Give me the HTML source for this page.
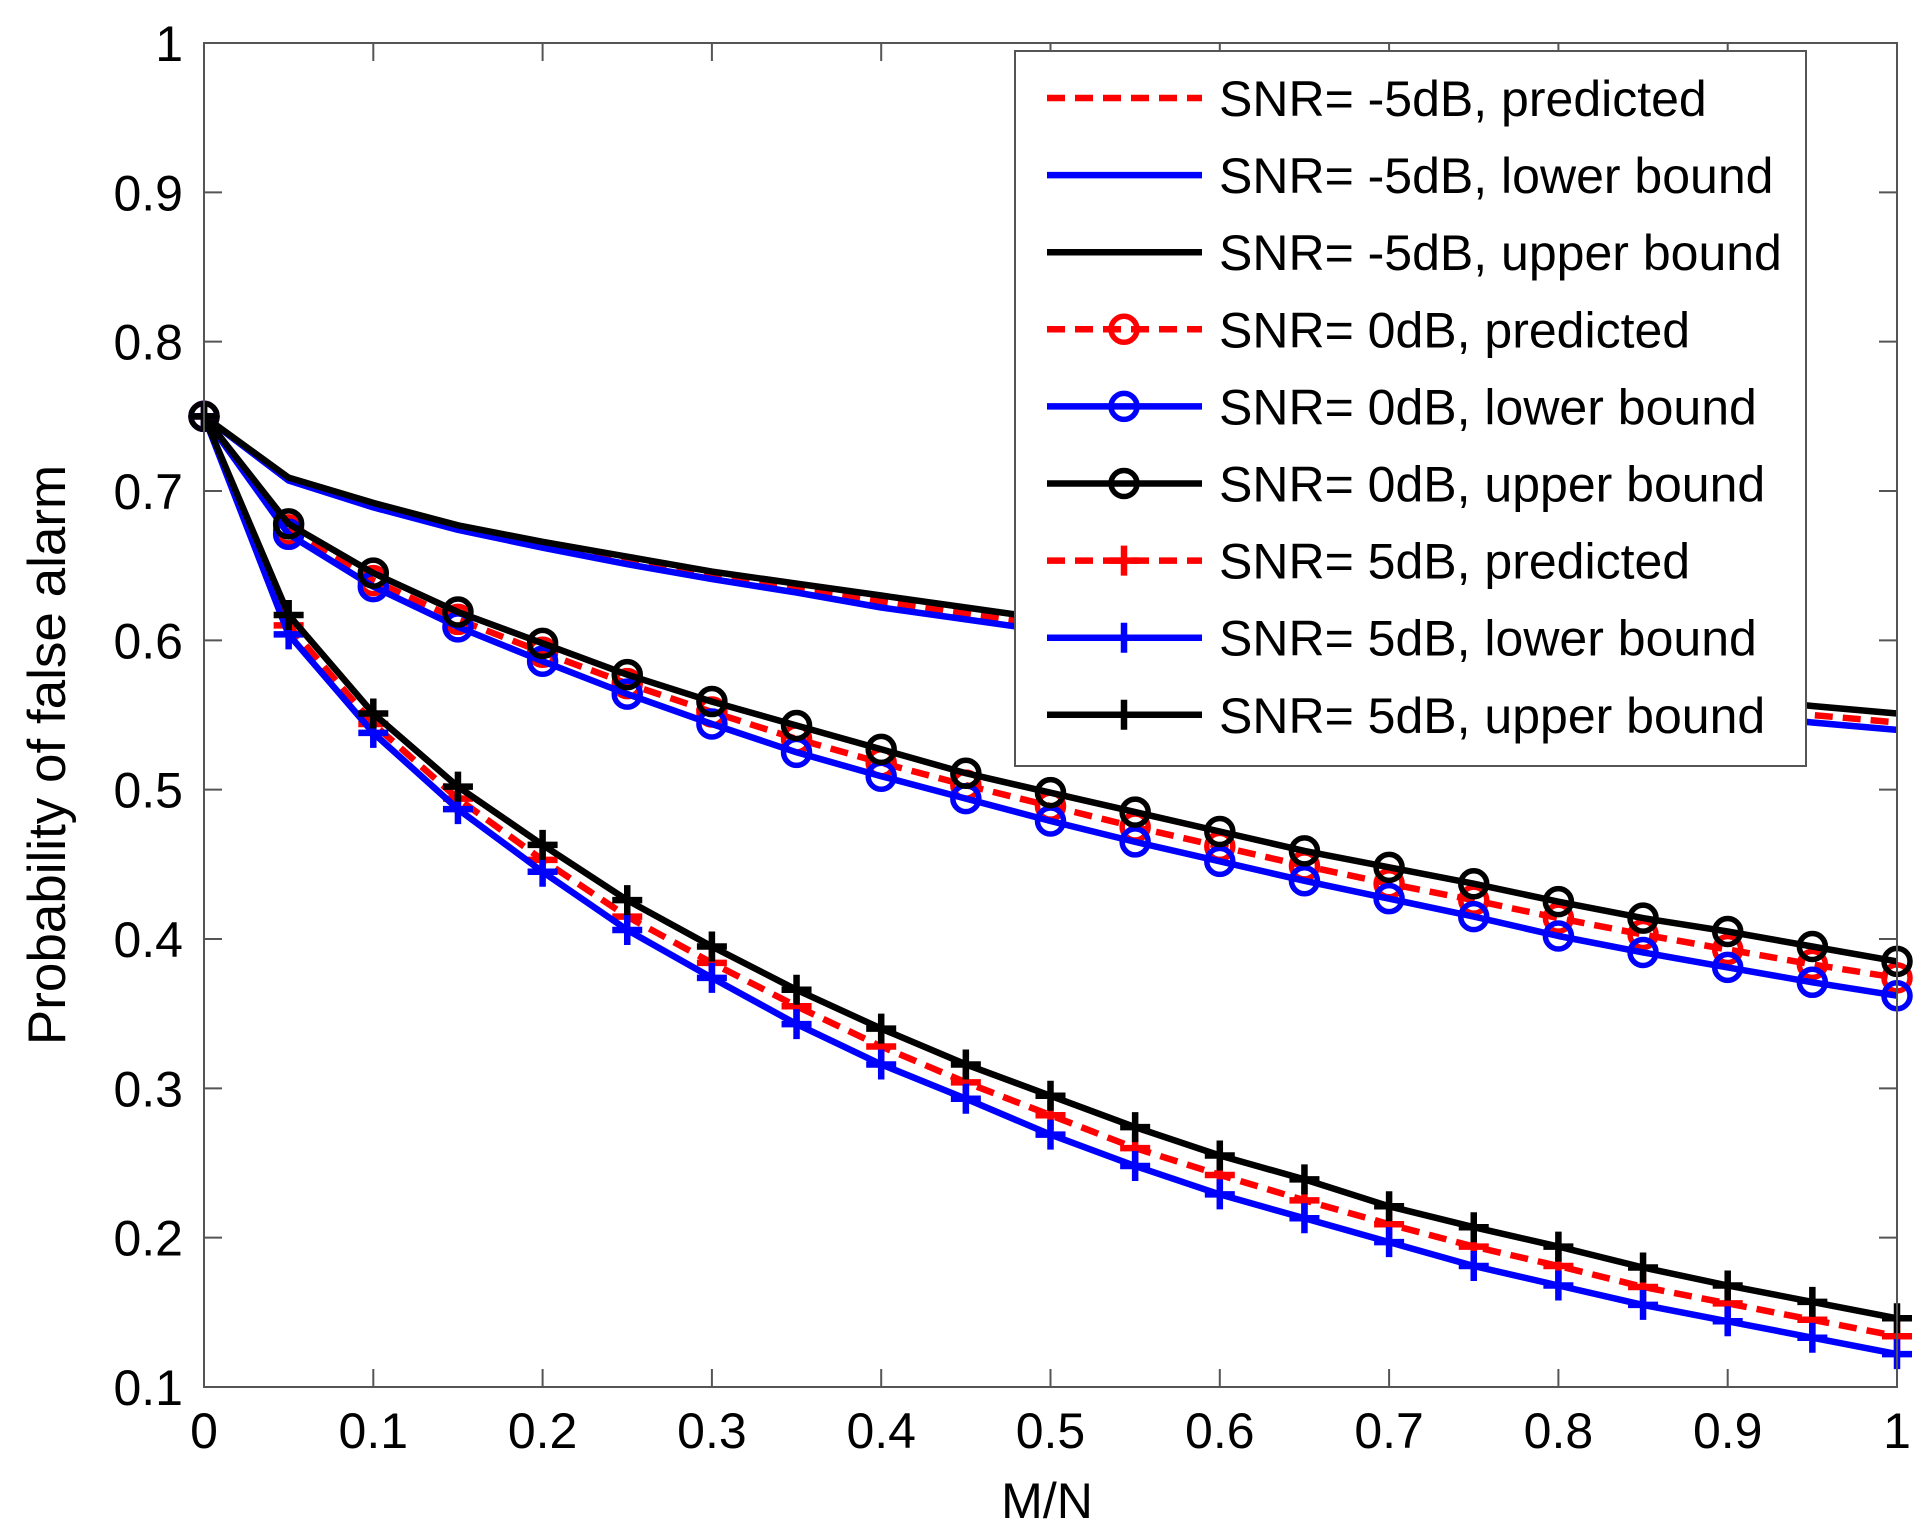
<!DOCTYPE html>
<html><head><meta charset="utf-8"><style>
html,body{margin:0;padding:0;background:#fff;}
svg{display:block;font-family:"Liberation Sans",Arial,sans-serif;}
</style></head><body>
<svg id="chart" width="1931" height="1539" viewBox="0 0 1931 1539">
<rect x="0" y="0" width="1931" height="1539" fill="#fff"/>
<g id="grid"></g>
<g id="series"></g>
<g id="axes"></g>
<g id="legend"></g>
</svg>
<script>
const xVals=[0,0.05,0.1,0.15,0.2,0.25,0.3,0.35,0.4,0.45,0.5,0.55,0.6,0.65,0.7,0.75,0.8,0.85,0.9,0.95,1];
const xTicks=[0,0.1,0.2,0.3,0.4,0.5,0.6,0.7,0.8,0.9,1];
const xTickLabels=["0","0.1","0.2","0.3","0.4","0.5","0.6","0.7","0.8","0.9","1"];
const yTicks=[0.1,0.2,0.3,0.4,0.5,0.6,0.7,0.8,0.9,1];
const yTickLabels=["0.1","0.2","0.3","0.4","0.5","0.6","0.7","0.8","0.9","1"];
const m5Upper=[0.75,0.709,0.692,0.677,0.666,0.656,0.646,0.638,0.630,0.622,0.614,0.607,0.600,0.593,0.587,0.580,0.574,0.568,0.562,0.556,0.551];
const m5Lower=[0.75,0.707,0.689,0.674,0.662,0.651,0.641,0.632,0.622,0.614,0.606,0.598,0.591,0.584,0.577,0.570,0.564,0.557,0.551,0.545,0.540];
const m5Pred=[0.75,0.708,0.690,0.675,0.664,0.653,0.643,0.635,0.626,0.618,0.610,0.602,0.595,0.588,0.582,0.575,0.569,0.562,0.556,0.550,0.545];
const d0Upper=[0.75,0.678,0.645,0.619,0.598,0.577,0.559,0.543,0.527,0.511,0.498,0.485,0.472,0.459,0.448,0.437,0.425,0.414,0.405,0.395,0.385];
const d0Lower=[0.75,0.671,0.636,0.609,0.586,0.564,0.544,0.525,0.509,0.494,0.479,0.465,0.452,0.439,0.427,0.415,0.402,0.391,0.381,0.371,0.362];
const d0Pred=[0.75,0.674,0.640,0.614,0.592,0.571,0.552,0.534,0.518,0.503,0.489,0.475,0.462,0.449,0.437,0.426,0.414,0.403,0.393,0.383,0.374];
const p5Upper=[0.75,0.617,0.551,0.502,0.463,0.426,0.395,0.366,0.340,0.316,0.295,0.274,0.255,0.239,0.221,0.207,0.194,0.180,0.168,0.157,0.146];
const p5Lower=[0.75,0.604,0.538,0.487,0.445,0.406,0.374,0.343,0.316,0.293,0.269,0.248,0.229,0.213,0.197,0.181,0.168,0.155,0.144,0.133,0.122];
const p5Pred=[0.75,0.610,0.544,0.494,0.453,0.415,0.384,0.355,0.328,0.304,0.282,0.260,0.242,0.225,0.209,0.194,0.181,0.167,0.156,0.145,0.134];
const legendLabels=["SNR= -5dB, predicted","SNR= -5dB, lower bound","SNR= -5dB, upper bound","SNR= 0dB, predicted","SNR= 0dB, lower bound","SNR= 0dB, upper bound","SNR= 5dB, predicted","SNR= 5dB, lower bound","SNR= 5dB, upper bound"];

const NS="http://www.w3.org/2000/svg";
const L=204,R=1897,T=43,B=1387;
function sx(v){return L+(v-0)/(1-0)*(R-L);}
function sy(v){return B-(v-0.1)/(1-0.1)*(B-T);}
function mk(tag,attrs,parent){const e=document.createElementNS(NS,tag);for(const k in attrs)e.setAttribute(k,attrs[k]);parent.appendChild(e);return e;}

const seriesDefs=[
 {d:m5Pred,c:"#ff0000",dash:"18,10",m:null,n:"snr-m5-predicted"},
 {d:m5Lower,c:"#0000ff",dash:null,m:null,n:"snr-m5-lower-bound"},
 {d:m5Upper,c:"#000000",dash:null,m:null,n:"snr-m5-upper-bound"},
 {d:d0Pred,c:"#ff0000",dash:"18,10",m:"o",n:"snr-0-predicted"},
 {d:d0Lower,c:"#0000ff",dash:null,m:"o",n:"snr-0-lower-bound"},
 {d:d0Upper,c:"#000000",dash:null,m:"o",n:"snr-0-upper-bound"},
 {d:p5Pred,c:"#ff0000",dash:"18,10",m:"+",n:"snr-5-predicted"},
 {d:p5Lower,c:"#0000ff",dash:null,m:"+",n:"snr-5-lower-bound"},
 {d:p5Upper,c:"#000000",dash:null,m:"+",n:"snr-5-upper-bound"}
];
function marker(type,x,y,c,g){
  if(type==="o"){const e=mk("circle",{cx:x,cy:y,r:13,fill:"none",stroke:c,"stroke-width":5.5},g);return e;}
  if(type==="+"){const e=mk("path",{d:`M${x-15},${y}H${x+15}M${x},${y-15}V${y+15}`,stroke:c,"stroke-width":6.5,fill:"none"},g);return e;}
}
const sg=document.getElementById("series");
seriesDefs.forEach(s=>{
  const g=mk("g",{},sg);
  
  
  const pts=s.d.map((v,i)=>sx(xVals[i]).toFixed(1)+","+sy(v).toFixed(1)).join(" ");
  const pl=mk("polyline",{points:pts,fill:"none",stroke:s.c,"stroke-width":6.5,"stroke-linejoin":"round"},g);
  if(s.dash)pl.setAttribute("stroke-dasharray",s.dash);
  
  
  if(s.m){s.d.forEach((v,i)=>{const e=marker(s.m,sx(xVals[i]),sy(v),s.c,g);
    
    });}
});

const ag=document.getElementById("axes");
const box=mk("rect",{x:L,y:T,width:R-L,height:B-T,fill:"none",stroke:"#555","stroke-width":2},ag);


xTicks.forEach((v,i)=>{const x=sx(v);
  mk("path",{d:`M${x},${B}V${B-18}M${x},${T}V${T+18}`,stroke:"#555","stroke-width":2},ag);
  const t=mk("text",{x:x,y:1448,"font-size":50,"text-anchor":"middle",fill:"#000"},ag);t.textContent=xTickLabels[i];
  
  
});
yTicks.forEach((v,i)=>{const y=sy(v);
  mk("path",{d:`M${L},${y}H${L+18}M${R},${y}H${R-18}`,stroke:"#555","stroke-width":2},ag);
  const t=mk("text",{x:183,y:y+18,"font-size":50,"text-anchor":"end",fill:"#000"},ag);t.textContent=yTickLabels[i];
  
  
});
const xt=mk("text",{x:1047,y:1518,"font-size":50,"text-anchor":"middle",fill:"#000"},ag);xt.textContent="M/N";


const yt=mk("text",{x:0,y:0,"font-size":53,"text-anchor":"middle",fill:"#000",transform:"translate(65,755) rotate(-90)"},ag);yt.textContent="Probability of false alarm";



const lg=document.getElementById("legend");
const lb=mk("rect",{x:1015,y:51,width:791,height:715,fill:"#fff",stroke:"#555","stroke-width":2},lg);


seriesDefs.forEach((s,i)=>{
  const y=98+i*77.1;
  const g=mk("g",{},lg);
  
  
  const ln=mk("line",{x1:1047,y1:y,x2:1202,y2:y,stroke:s.c,"stroke-width":6.5},g);
  if(s.dash)ln.setAttribute("stroke-dasharray","18,10");
  if(s.m)marker(s.m,1124,y,s.c,g);
  const t=mk("text",{x:1219,y:y+18,"font-size":50,fill:"#000"},g);t.textContent=legendLabels[i];
});
</script>
</body></html>
